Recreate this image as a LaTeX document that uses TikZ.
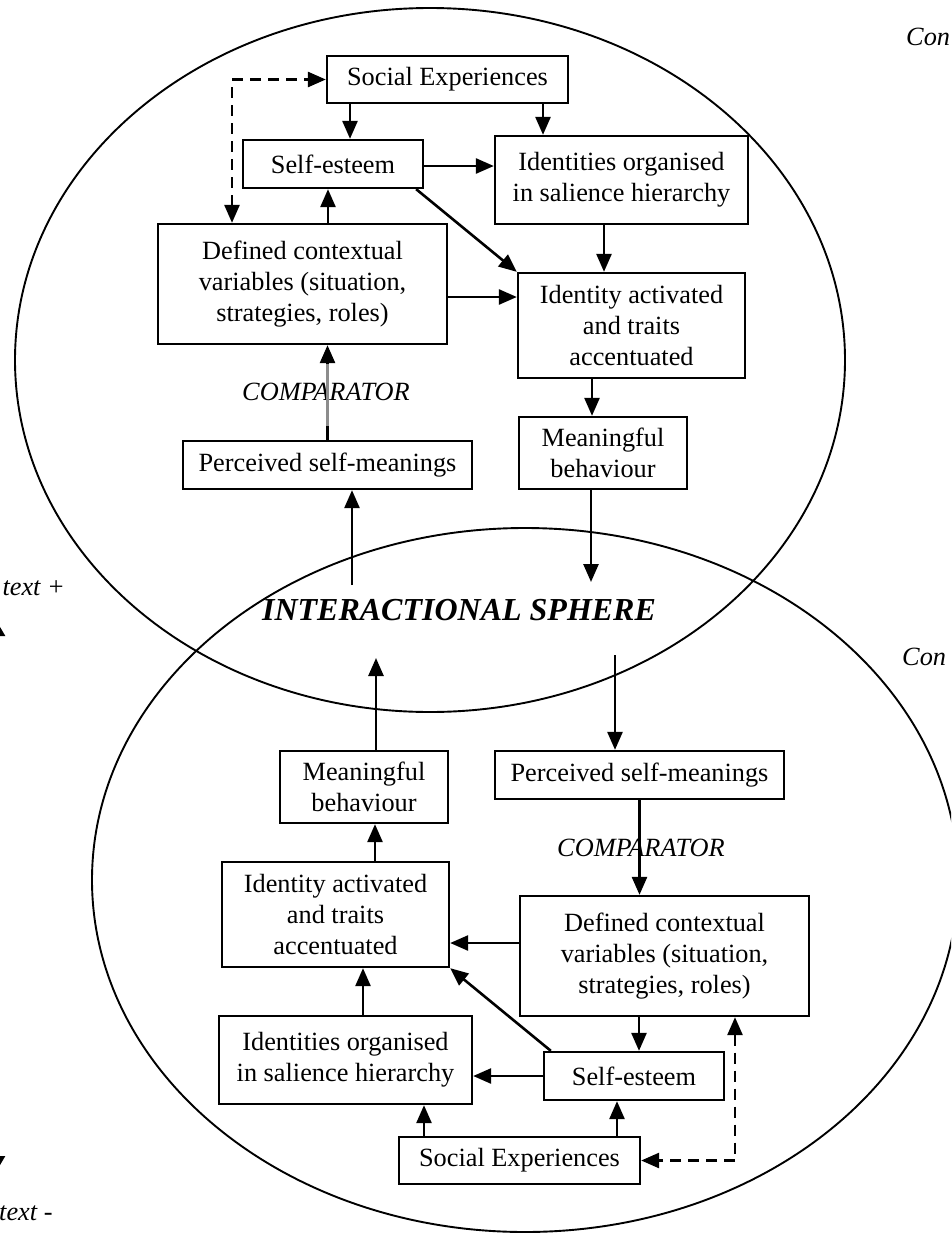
\documentclass[tikz,border=0pt]{standalone}
\usepackage{fontspec}
\setmainfont{Liberation Serif}
\usetikzlibrary{arrows.meta,calc}
\begin{document}
\begin{tikzpicture}[x=1pt,y=-1pt,
  every node/.style={font=\fontsize{26.3}{31}\selectfont},
  box/.style={draw, line width=2.3pt, fill=white, align=center, inner sep=0pt},
  sz/.style 2 args={minimum width=#1pt, minimum height=#2pt},
  tip/.tip={Triangle[length=18pt,width=15pt]},
  arr/.style={line width=2.6pt, -tip},
  dsh/.style={line width=2.6pt, dash pattern=on 11pt off 7pt, tip-tip},
  ring/.style={line width=1.9pt},
  lbl/.style={font=\fontsize{26.3}{31}\selectfont\itshape, inner sep=0pt},
  title/.style={font=\fontsize{32}{36}\selectfont\bfseries\itshape, inner sep=0pt}
]
\useasboundingbox (0,0) rectangle (951,1234);
\clip (0,0) rectangle (951,1234);

% the two spheres
\draw[ring] (430,360) ellipse [x radius=415, y radius=352];
\draw[ring] (525,880) ellipse [x radius=433, y radius=352];

% upper sphere
\node[box, sz={241}{47}]  (se1)  at (447.5,79.5) {Social Experiences};
\node[box, sz={180}{48}]  (es1)  at (333,164)    {Self-esteem};
\node[box, sz={253}{88}]  (io1)  at (621.5,180)  {Identities organised\\in salience hierarchy};
\node[box, sz={289}{120}] (dc1)  at (302.5,284)  {Defined contextual\\variables (situation,\\strategies, roles)};
\node[box, sz={227}{105}] (ia1)  at (631.5,325.5){Identity activated\\and traits\\accentuated};
\node[box, sz={168}{72}]  (mb1)  at (603,453)    {Meaningful\\behaviour};
\node[box, sz={289}{48}]  (psm1) at (327.5,465)  {Perceived self-meanings};
\node[lbl] (cmp1) at (326,392) {COMPARATOR};

% lower sphere
\node[box, sz={241}{47}]  (se2)  at (519.5,1160.5) {Social Experiences};
\node[box, sz={180}{48}]  (es2)  at (634,1076)     {Self-esteem};
\node[box, sz={253}{88}]  (io2)  at (345.5,1060)   {Identities organised\\in salience hierarchy};
\node[box, sz={289}{120}] (dc2)  at (664.5,956)    {Defined contextual\\variables (situation,\\strategies, roles)};
\node[box, sz={227}{105}] (ia2)  at (335.5,914.5)  {Identity activated\\and traits\\accentuated};
\node[box, sz={168}{72}]  (mb2)  at (364,787)      {Meaningful\\behaviour};
\node[box, sz={289}{48}]  (psm2) at (639.5,775)    {Perceived self-meanings};
\node[lbl] (cmp2) at (641,848) {COMPARATOR};

\node[title] (sphere) at (459,610) {INTERACTIONAL SPHERE};

% margin labels
\node[lbl, anchor=base west] (ctxa) at (906,45)  {Con};
\node[lbl, anchor=base west] (ctxb) at (902,665) {Con};
\node[lbl, anchor=base east] (ctxp) at (65,595)  {text +};
\node[lbl, anchor=base west] (ctxm) at (-1,1220) {text -};
\coordinate (cplus)  at (-4,620);
\coordinate (cminus) at (-4,1172);
\draw[line width=2.6pt, {Triangle[length=16pt,width=18pt]}-{Triangle[length=16pt,width=18pt]}] (cminus) -- (cplus);

% upper connectors
\draw[arr] ([xshift=-97.5]se1.south) -- ([xshift=17]es1.north);
\draw[arr] ([xshift=95.5]se1.south) -- ([xshift=95.5]se1.south |- io1.north);
\draw[arr] ([yshift=-2]es1.east) -- ([yshift=-2]es1.east -| io1.west);
\draw[arr] ([xshift=-8]es1.south east) -- (ia1.north west);
\draw[arr] ([xshift=25.5]dc1.north) -- ([xshift=25.5]dc1.north |- es1.south);
\draw[dsh] ([xshift=-70.5]dc1.north) |- (se1.west);
\draw[arr] ([xshift=-17.5]io1.south) -- ([xshift=-17.5]io1.south |- ia1.north);
\draw[arr] ([yshift=-13]dc1.east) -- ([yshift=-13]dc1.east -| ia1.west);
\draw[arr] ([xshift=-39.5]ia1.south) -- ([xshift=-39.5]ia1.south |- mb1.north);
\draw[arr] (psm1.north) -- (psm1.north |- dc1.south);
\draw[line width=2.6pt, black!45] ([yshift=14]psm1.north) -- ([yshift=-19]psm1.north |- dc1.south);
\coordinate (in1)  at (352,585);
\coordinate (out1) at (591,582);
\draw[arr] (in1) -- (in1 |- psm1.south);
\draw[arr] (out1 |- mb1.south) -- (out1);

% lower connectors
\draw[arr] ([xshift=97.5]se2.north) -- ([xshift=97.5]se2.north |- es2.south);
\draw[arr] ([xshift=-95.5]se2.north) -- ([xshift=-95.5]se2.north |- io2.south);
\draw[arr] (es2.west) -- (es2.west -| io2.east);
\draw[arr] ([xshift=8]es2.north west) -- (ia2.south east);
\draw[arr] ([xshift=-25.5]dc2.south) -- ([xshift=-25.5]dc2.south |- es2.north);
\draw[dsh] ([xshift=70.5]dc2.south) |- (se2.east);
\draw[arr] ([xshift=17.5]io2.north) -- ([xshift=17.5]io2.north |- ia2.south);
\draw[arr] ([yshift=13]dc2.west) -- ([yshift=13]dc2.west -| ia2.east);
\draw[arr] ([xshift=39.5]ia2.north) -- ([xshift=39.5]ia2.north |- mb2.south);
\draw[arr] (psm2.south) -- (psm2.south |- dc2.north);
\coordinate (out2) at (376,658);
\coordinate (in2)  at (615,655);
\draw[arr] (out2 |- mb2.north) -- (out2);
\draw[arr] (in2) -- (in2 |- psm2.north);
\end{tikzpicture}
\end{document}
